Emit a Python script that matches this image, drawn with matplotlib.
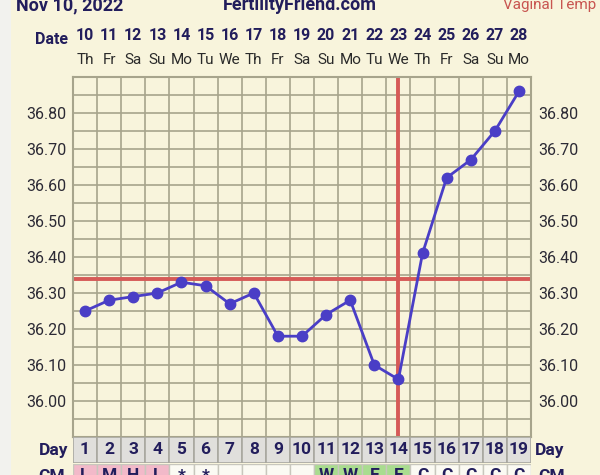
import matplotlib
matplotlib.use("Agg")
import matplotlib.pyplot as plt
import matplotlib.transforms as mtransforms
import numpy as np

plt.rcParams['font.family'] = ['Roboto', 'DejaVu Sans']

cycle_days = list(range(1, 20))
dates = [10, 11, 12, 13, 14, 15, 16, 17, 18, 19, 20, 21, 22, 23, 24, 25, 26, 27, 28]
weekdays = ["Th", "Fr", "Sa", "Su", "Mo", "Tu", "We", "Th", "Fr", "Sa", "Su", "Mo",
            "Tu", "We", "Th", "Fr", "Sa", "Su", "Mo"]
temps = [36.25, 36.28, 36.29, 36.30, 36.33, 36.32, 36.27, 36.30, 36.18, 36.18,
         36.24, 36.28, 36.10, 36.06, 36.41, 36.62, 36.67, 36.75, 36.86]
cm_labels = ["L", "M", "H", "L", "*", "*", "", "", "", "", "W", "W", "E", "E",
             "C", "C", "C", "C", "C"]
cm_colors = ["#f2b9c9"] * 4 + ["#fbfaf3"] * 6 + ["#a9dc8f"] * 4 + ["#fbfaf3"] * 5
ytick_vals = [36.00, 36.10, 36.20, 36.30, 36.40, 36.50, 36.60, 36.70, 36.80]
coverline = 36.34
ovulation_day = 14

W, H = 600, 475
bg = "#f8f4dc"
navy = "#221d5c"
gridc = "#a7a48c"
redc = "#d65a57"
linec = "#4a3ec6"

fig = plt.figure(figsize=(W / 100, H / 100), dpi=100, facecolor=bg)
# left light strip
fig.patches.append(plt.Rectangle((0, 0), 11 / W, 1, transform=fig.transFigure,
                                 facecolor="#f2f2ee", edgecolor="none", zorder=0))

L, R, T, B = 73, 531, 77, 437
ax = fig.add_axes([L / W, 1 - B / H, (R - L) / W, (B - T) / H])
ax.set_facecolor(bg)
ax.set_xlim(0.5, 19.5)
ax.set_ylim(35.90, 36.90)
for x in np.arange(0.5, 20.0, 1.0):
    ax.axvline(x, color=gridc, lw=1.2, zorder=1)
for y in np.arange(35.95, 36.90, 0.05):
    ax.axhline(y, color=gridc, lw=1.2, zorder=1)
for s in ax.spines.values():
    s.set_color(gridc)
    s.set_linewidth(1.5)
ax.set_xticks([])
ax.set_yticks(ytick_vals)
ax.set_yticklabels([f"{v:.2f}" for v in ytick_vals])
ax.tick_params(axis="y", length=0, labelsize=11.5, labelcolor="#2c2a35", pad=5,
               labelright=True, right=False)

ax.axhline(coverline, color=redc, lw=2.8, zorder=2)
ax.axvline(ovulation_day, color=redc, lw=2.8, zorder=2)
ax.plot(cycle_days, temps, color=linec, lw=2.0, marker="o", ms=7.5,
        markerfacecolor=linec, markeredgecolor=linec, zorder=3)

# top labels
trans_top = mtransforms.blended_transform_factory(ax.transData, fig.transFigure)
for d, dt, wd in zip(cycle_days, dates, weekdays):
    fig.text(d, 1 - 36 / H, str(dt), transform=trans_top, ha="center", va="center",
             fontsize=11.5, fontweight="bold", color=navy)
    fig.text(d, 1 - 60 / H, wd, transform=trans_top, ha="center", va="center",
             fontsize=11, color="#2a2a2a")
fig.text(52 / W, 1 - 40 / H, "Date", ha="center", va="center", fontsize=11.5,
         fontweight="bold", color=navy)
fig.text(16 / W, 1 - 5 / H, "Nov 10, 2022", ha="left", va="center", fontsize=13,
         fontweight="bold", color=navy)
fig.text(300 / W, 1 - 5 / H, "FertilityFriend.com", ha="center", va="center",
         fontsize=13, fontweight="bold", color=navy)
fig.text(596 / W, 1 - 5 / H, "Vaginal Temp", ha="right", va="center",
         fontsize=11, color="#c85550")

# Day row
axd = fig.add_axes([L / W, 1 - 463 / H, (R - L) / W, 26 / H])
axd.set_xlim(0.5, 19.5)
axd.set_ylim(0, 1)
axd.axis("off")
axd.bar(cycle_days, [1] * 19, width=1.0, bottom=0, color="#e0dfdc",
        edgecolor="#a9a8a0", lw=1.2)
for d in cycle_days:
    axd.text(d, 0.5, str(d), ha="center", va="center", fontsize=12.5,
             fontweight="bold", color=navy)
fig.text(54 / W, 1 - 450 / H, "Day", ha="center", va="center", fontsize=12.5,
         fontweight="bold", color=navy)
fig.text(550 / W, 1 - 450 / H, "Day", ha="center", va="center", fontsize=12.5,
         fontweight="bold", color=navy)

# CM row (cut off at bottom, as in the reference)
axc = fig.add_axes([L / W, 1 - 488 / H, (R - L) / W, 24 / H])
axc.set_xlim(0.5, 19.5)
axc.set_ylim(0, 1)
axc.axis("off")
axc.bar(cycle_days, [1] * 19, width=1.0, bottom=0, color=cm_colors,
        edgecolor="#c8c7bd", lw=1.0)
for d, lab in zip(cycle_days, cm_labels):
    axc.text(d, 0.5, lab, ha="center", va="center", fontsize=12.5,
             fontweight="bold", color=navy)
fig.text(52 / W, 1 - 476 / H, "CM", ha="center", va="center", fontsize=12.5,
         fontweight="bold", color=navy)
fig.text(552 / W, 1 - 476 / H, "CM", ha="center", va="center", fontsize=12.5,
         fontweight="bold", color=navy)

fig.savefig("out.png", dpi=100, facecolor=bg)
